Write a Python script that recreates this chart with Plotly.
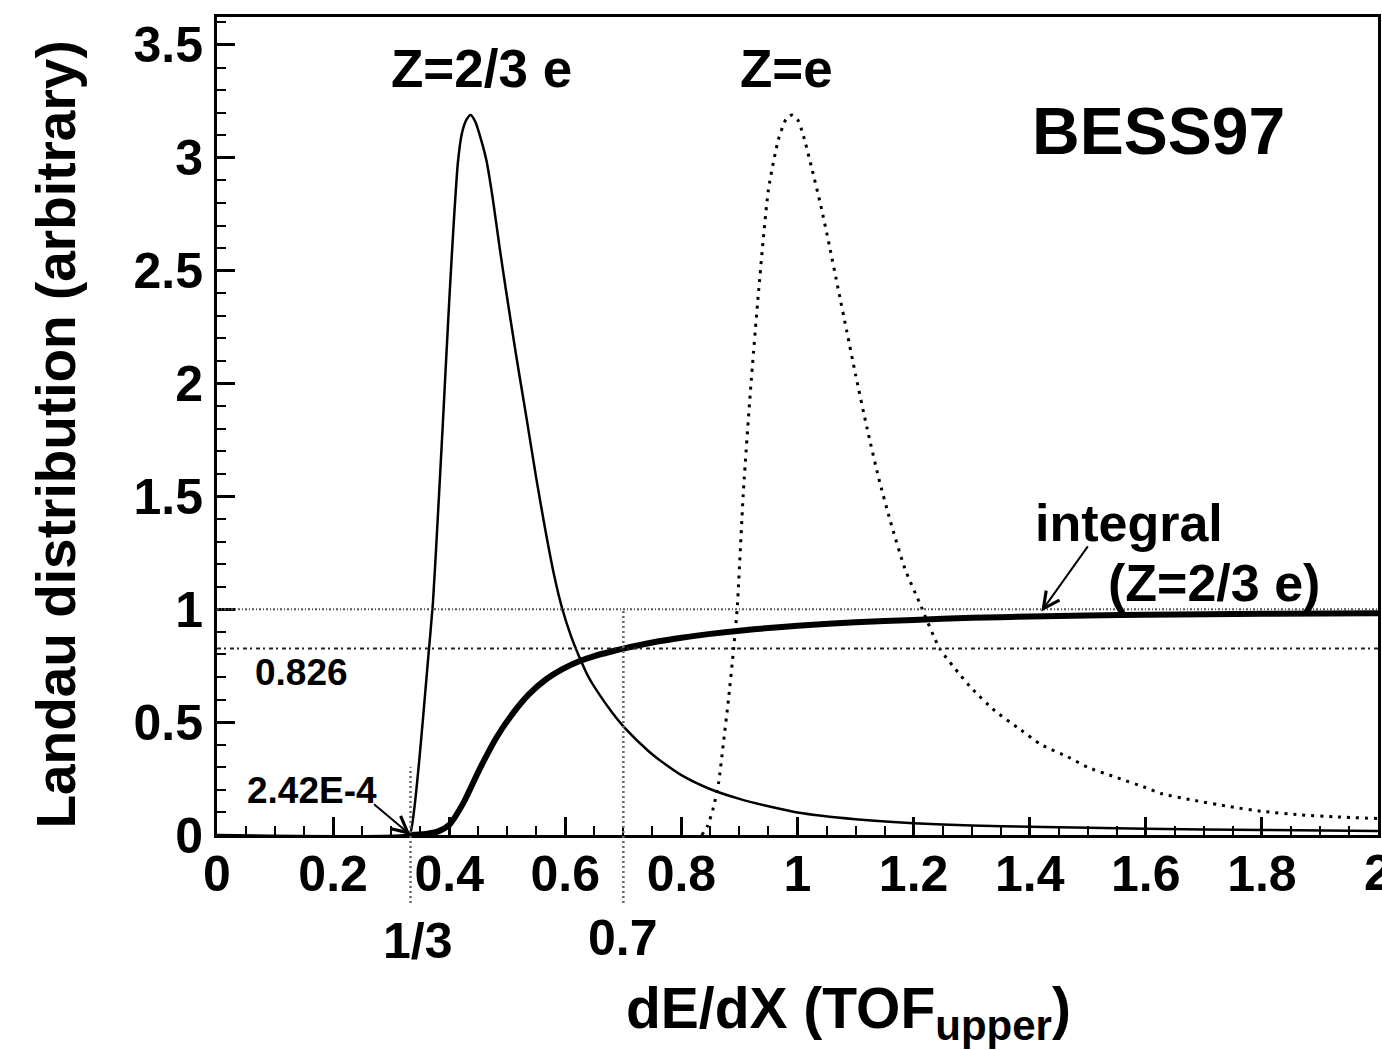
import plotly.graph_objects as go

# ---------------- data ----------------
# Landau distribution for Z = 2/3 e (thin solid)
x_two_thirds = [0.0, 0.325, 0.333, 0.340, 0.348, 0.355, 0.363, 0.372, 0.380, 0.389,
                0.395, 0.401, 0.408, 0.415, 0.422, 0.430, 0.437, 0.445, 0.455, 0.464,
                0.475, 0.487, 0.498, 0.515, 0.533, 0.550, 0.565, 0.580, 0.595, 0.610,
                0.624, 0.640, 0.658, 0.680, 0.704, 0.744, 0.761, 0.800, 0.848, 0.900,
                0.950, 1.000, 1.100, 1.200, 1.300, 1.400, 1.600, 1.800, 2.000]
y_two_thirds = [0.0, 0.0, 0.01, 0.12, 0.32, 0.52, 0.76, 1.03, 1.39, 1.82,
                2.12, 2.41, 2.72, 2.98, 3.11, 3.17, 3.19, 3.16, 3.08, 2.99,
                2.82, 2.60, 2.41, 2.13, 1.85, 1.58, 1.36, 1.16, 1.00, 0.88,
                0.79, 0.70, 0.625, 0.545, 0.47, 0.37, 0.335, 0.265, 0.205, 0.16,
                0.127, 0.10, 0.07, 0.052, 0.042, 0.036, 0.028, 0.022, 0.018]

# Landau distribution for Z = e (dotted)
x_one = [0.835, 0.845, 0.855, 0.864, 0.872, 0.881, 0.890, 0.896, 0.907, 0.919,
         0.933, 0.950, 0.967, 0.980, 0.990, 1.000, 1.010, 1.024, 1.040, 1.055,
         1.070, 1.085, 1.100, 1.120, 1.140, 1.160, 1.185, 1.210, 1.245, 1.280,
         1.300, 1.340, 1.385, 1.420, 1.465, 1.500, 1.546, 1.600, 1.626, 1.680,
         1.746, 1.800, 1.866, 1.930, 2.000]
y_one = [0.0, 0.04, 0.12, 0.229, 0.40, 0.598, 0.826, 1.0, 1.53, 1.97,
         2.41, 2.86, 3.08, 3.17, 3.19, 3.17, 3.10, 2.96, 2.79, 2.61,
         2.42, 2.23, 2.04, 1.80, 1.58, 1.39, 1.18, 1.03, 0.826, 0.71,
         0.65, 0.55, 0.465, 0.40, 0.347, 0.30, 0.258, 0.21, 0.184, 0.155,
         0.125, 0.105, 0.089, 0.08, 0.073]

# integral of the Z = 2/3 e distribution (thick solid)
x_integral = [0.33, 0.36, 0.38, 0.40, 0.424, 0.452, 0.481, 0.510, 0.538, 0.567,
              0.595, 0.624, 0.650, 0.681, 0.700, 0.750, 0.800, 0.850, 0.900, 0.950,
              1.000, 1.100, 1.200, 1.300, 1.400, 1.500, 1.600, 1.800, 2.000]
y_integral = [0.0, 0.005, 0.015, 0.045, 0.14, 0.29, 0.43, 0.54, 0.625, 0.69,
              0.735, 0.77, 0.793, 0.814, 0.826, 0.853, 0.874, 0.891, 0.905, 0.917,
              0.927, 0.942, 0.953, 0.962, 0.968, 0.973, 0.976, 0.980, 0.982]

# reference levels / cuts
cut_level = 0.826
unit_level = 1.0
cut_x = 0.7
threshold_x = 1 / 3
threshold_level = 2.42e-4

x_tick_vals = [0, 0.2, 0.4, 0.6, 0.8, 1.0, 1.2, 1.4, 1.6, 1.8, 2.0]
x_tick_text = ["0", "0.2", "0.4", "0.6", "0.8", "1", "1.2", "1.4", "1.6", "1.8", "2"]
y_tick_vals = [0, 0.5, 1.0, 1.5, 2.0, 2.5, 3.0, 3.5]
y_tick_text = ["0", "0.5", "1", "1.5", "2", "2.5", "3", "3.5"]

X_RANGE = [0, 2]
Y_RANGE = [0, 3.624]

# ---------------- figure ----------------
FONT = "Liberation Sans, Arial, Helvetica, sans-serif"
BLACK = "#000000"

fig = go.Figure()

fig.add_trace(go.Scatter(x=x_two_thirds, y=y_two_thirds, mode="lines",
                         line=dict(color=BLACK, width=2.5, shape="spline", smoothing=0.6),
                         hoverinfo="skip"))
fig.add_trace(go.Scatter(x=x_one, y=y_one, mode="lines",
                         line=dict(color=BLACK, width=3, dash="3px,6px", shape="spline", smoothing=0.6),
                         hoverinfo="skip"))
fig.add_trace(go.Scatter(x=x_integral, y=y_integral, mode="lines",
                         line=dict(color=BLACK, width=6, shape="spline", smoothing=0.8),
                         hoverinfo="skip"))

# horizontal reference lines
fig.add_shape(type="line", xref="x", yref="y", x0=X_RANGE[0], x1=X_RANGE[1],
              y0=unit_level, y1=unit_level,
              line=dict(color="#555555", width=2, dash="2px,2px,1px,2px"))
fig.add_shape(type="line", xref="x", yref="y", x0=X_RANGE[0], x1=X_RANGE[1],
              y0=cut_level, y1=cut_level,
              line=dict(color="#222222", width=2, dash="4px,3px,2px,4px"))

# vertical dotted cut lines (extend below the axis into the label area)
ypaper = lambda v: v / Y_RANGE[1]
fig.add_shape(type="line", xref="x", yref="paper", x0=threshold_x, x1=threshold_x,
              y0=-0.083, y1=ypaper(0.30),
              line=dict(color="#666666", width=2.5, dash="2px,3px"))
fig.add_shape(type="line", xref="x", yref="paper", x0=cut_x, x1=cut_x,
              y0=-0.083, y1=ypaper(unit_level),
              line=dict(color="#666666", width=2.5, dash="2px,3px"))

def bold(size):
    return dict(family=FONT, size=size, color=BLACK, weight="bold")

ann = []
ann.append(dict(x=0.455, y=3.398, xref="x", yref="y", text="Z=2/3 e", showarrow=False,
                font=bold(53), xanchor="center", yanchor="middle"))
ann.append(dict(x=0.981, y=3.398, xref="x", yref="y", text="Z=e", showarrow=False,
                font=bold(53), xanchor="center", yanchor="middle"))
ann.append(dict(x=1.622, y=3.119, xref="x", yref="y", text="BESS97", showarrow=False,
                font=bold(66), xanchor="center", yanchor="middle"))
ann.append(dict(x=1.405, y=1.382, xref="x", yref="y", text="integral", showarrow=False,
                font=bold(52), xanchor="left", yanchor="middle"))
ann.append(dict(x=1.531, y=1.117, xref="x", yref="y", text="(Z=2/3 e)", showarrow=False,
                font=bold(52), xanchor="left", yanchor="middle"))
ann.append(dict(x=0.062, y=0.722, xref="x", yref="y", text=f"{cut_level:.3f}", showarrow=False,
                font=bold(37), xanchor="left", yanchor="middle"))
ann.append(dict(x=0.048, y=0.199, xref="x", yref="y", text="2.42E-4", showarrow=False,
                font=bold(37), xanchor="left", yanchor="middle"))
# arrows
ann.append(dict(x=threshold_x, y=threshold_level, xref="x", yref="y",
                ax=0.268, ay=0.142, axref="x", ayref="y", text="", showarrow=True,
                arrowhead=5, arrowsize=1.6, arrowwidth=2, arrowcolor=BLACK))
ann.append(dict(x=1.42, y=0.99, xref="x", yref="y",
                ax=1.502, ay=1.285, axref="x", ayref="y", text="", showarrow=True,
                arrowhead=5, arrowsize=1.6, arrowwidth=2, arrowcolor=BLACK))
# last x tick label, which runs off the right edge in the reference
ann.append(dict(x=X_RANGE[1], y=-0.0465, xref="x", yref="paper", text=x_tick_text[-1],
                showarrow=False, font=bold(50), xanchor="center", yanchor="middle"))
# extra x labels below the axis
ann.append(dict(x=0.347, y=-0.1296, xref="x", yref="paper", text="1/3", showarrow=False,
                font=bold(50), xanchor="center", yanchor="middle"))
ann.append(dict(x=cut_x, y=-0.126, xref="x", yref="paper", text="0.7", showarrow=False,
                font=bold(50), xanchor="center", yanchor="middle"))
# axis titles
ann.append(dict(x=0.3505, y=-0.2164, xref="paper", yref="paper",
                text="dE/dX (TOF<sub><span style='font-size:42px'>upper</span></sub>)",
                showarrow=False,
                font=bold(57), xanchor="left", yanchor="middle"))
ann.append(dict(x=-0.139, y=0.489, xref="paper", yref="paper",
                text="Landau distribution (arbitrary)", showarrow=False, textangle=-90,
                font=bold(55), xanchor="center", yanchor="middle"))

fig.update_layout(
    width=1382, height=1050,
    margin=dict(l=217, r=1, t=17, b=215, pad=0),
    paper_bgcolor="white", plot_bgcolor="white",
    showlegend=False,
    annotations=ann,
    font=dict(family=FONT, color=BLACK),
)

axis_common = dict(showline=True, linecolor=BLACK, linewidth=3, mirror=True,
                   showgrid=False, zeroline=False, ticks="inside",
                   tickcolor=BLACK, tickwidth=2.5, ticklen=18,
                   tickfont=bold(50))

fig.update_xaxes(range=X_RANGE, tickvals=x_tick_vals, ticktext=x_tick_text,
                 ticklabelstandoff=-7,
                 minor=dict(dtick=0.05, ticks="inside", ticklen=9, tickwidth=2, tickcolor=BLACK,
                            showgrid=False),
                 **axis_common)
fig.update_yaxes(range=Y_RANGE, tickvals=y_tick_vals, ticktext=y_tick_text,
                 ticklabelstandoff=1,
                 minor=dict(dtick=0.1, ticks="inside", ticklen=9, tickwidth=2, tickcolor=BLACK,
                            showgrid=False),
                 **axis_common)

fig.write_html("out.html")
